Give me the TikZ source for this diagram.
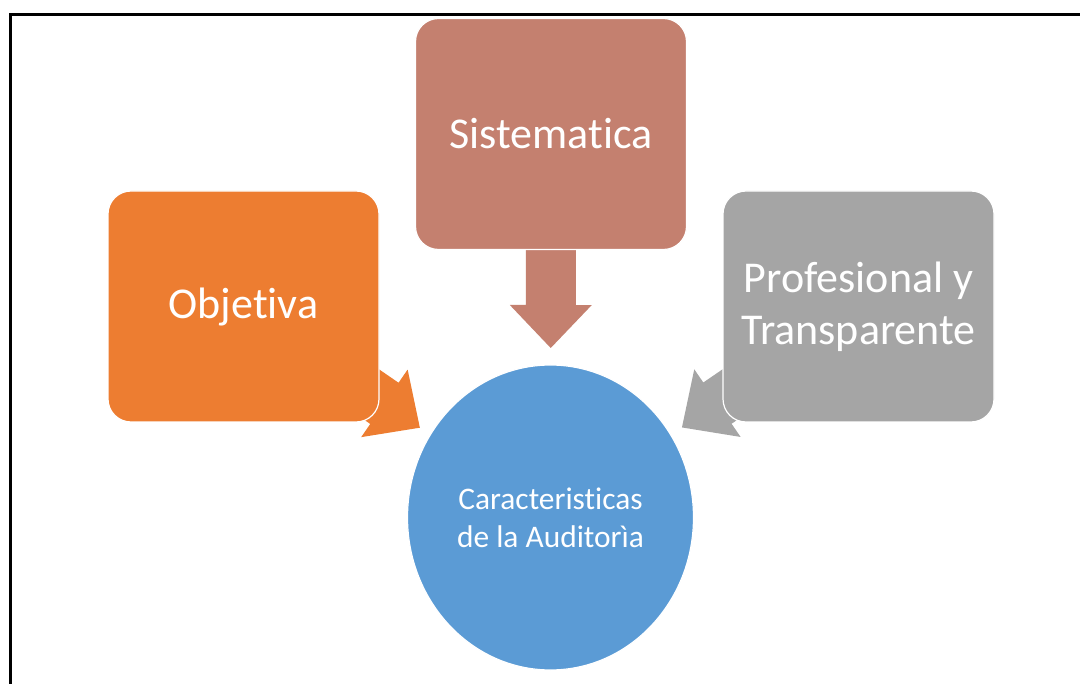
\documentclass[tikz,border=0pt]{standalone}
\usepackage{fontspec}
\setmainfont{Carlito}[Ligatures=NoCommon]
\usetikzlibrary{shapes.geometric,calc,backgrounds}
\definecolor{orng}{HTML}{ED7D31}
\definecolor{rose}{HTML}{C4806F}
\definecolor{gry}{HTML}{A5A5A5}
\definecolor{blu}{HTML}{5B9BD5}
\newcommand\radarrow[3]{%
  \coordinate (#1-s) at ($(#1.center)!171pt!(#2.center)$);
  \coordinate (#1-t) at ($(#1.center)!214pt!(#2.center)$);
  \fill[#3] ($(#1.center)!25pt!90:(#2.center)$) -- ($(#1-s)!25pt!90:(#2.center)$)
    -- ($(#1-s)!41pt!90:(#2.center)$) -- (#1-t) -- ($(#1-s)!41pt!-90:(#2.center)$)
    -- ($(#1-s)!25pt!-90:(#2.center)$) -- ($(#1.center)!25pt!-90:(#2.center)$) -- cycle;}
\begin{document}
\begin{tikzpicture}[x=1pt,y=-1pt,
  box/.style={rounded corners=23pt, draw=white, line width=1.2pt,
    minimum width=271pt, minimum height=231pt, text=white, align=center,
    font=\fontsize{44}{52}\selectfont, inner sep=0pt},
  hub/.style={ellipse, draw=white, line width=1.2pt, fill=blu,
    minimum width=286pt, minimum height=305pt, text=white, align=center,
    font=\fontsize{31.4}{38}\selectfont, inner sep=0pt},
  frame/.style={line width=3pt, black}]
\useasboundingbox (0,0) rectangle (1080,684);
\draw[frame] (10,690) -- (10,14.7) -- (1085,14.7);
\node[box, fill=orng] (obj) at (243.5,306.5) {Objetiva};
\node[box, fill=rose] (sis) at (551,134) {Sistematica};
\node[box, fill=gry] (pro) at (858.5,306.5) {Profesional y\\Transparente};
\node[hub] (car) at (550.5,517.5) {Caracteristicas\\de la Auditorìa};
\begin{pgfonlayer}{background}
  \fill[white] (0,0) rectangle (1080,684);
  \radarrow{obj}{car}{orng}
  \radarrow{sis}{car}{rose}
  \radarrow{pro}{car}{gry}
\end{pgfonlayer}
\end{tikzpicture}
\end{document}
